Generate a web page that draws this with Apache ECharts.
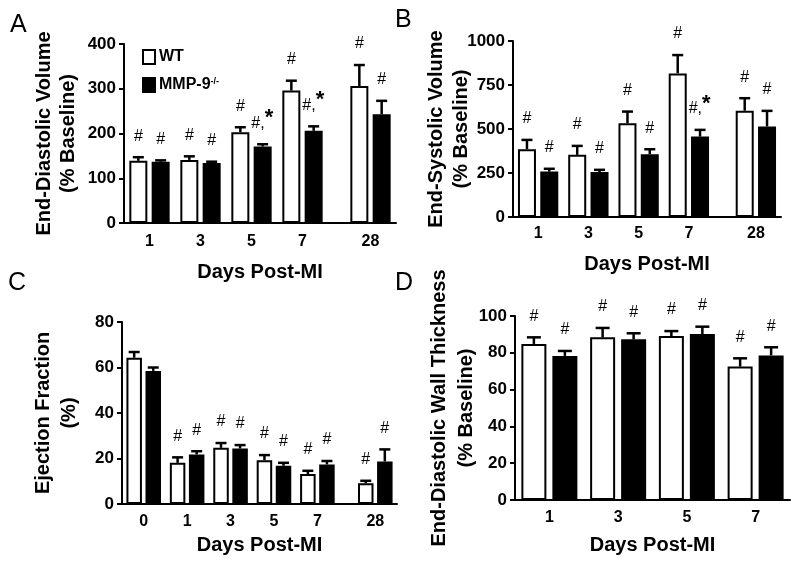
<!DOCTYPE html>
<html><head><meta charset="utf-8">
<script src="https://cdn.jsdelivr.net/npm/echarts@6/dist/echarts.min.js"></script>
<style>html,body{margin:0;padding:0;background:#fff}#c{width:800px;height:565px}</style>
</head><body><div id="c"></div>
<script>
// ---------- Data ----------
const seriesNames = ['WT', 'MMP-9-/-'];

// Panel A: End-Diastolic Volume (% Baseline)
const daysA = ['1', '3', '5', '7', '28'];
const edvWT = [139, 141, 203, 296, 306];
const edvWTsem = [8, 8, 11, 22, 47];
const edvKO = [137, 134, 171, 206, 243];
const edvKOsem = [3, 3, 5, 10, 30];
const edvWTann = ['#', '#', '#', '#', '#'];
const edvKOann = ['#', '#', '#,*', '#,*', '#'];
const edvTicks = [0, 100, 200, 300, 400];

// Panel B: End-Systolic Volume (% Baseline)
const daysB = ['1', '3', '5', '7', '28'];
const esvWT = [385, 353, 533, 816, 604];
const esvWTsem = [53, 51, 66, 104, 71];
const esvKO = [258, 255, 357, 457, 514];
const esvKOsem = [16, 13, 28, 38, 89];
const esvWTann = ['#', '#', '#', '#', '#'];
const esvKOann = ['#', '#', '#', '#,*', '#'];
const esvTicks = [0, 250, 500, 750, 1000];

// Panel C: Ejection Fraction (%)
const daysC = ['0', '1', '3', '5', '7', '28'];
const efWT = [64.3, 18.1, 24.7, 19.2, 13.2, 9.1];
const efWTsem = [2.5, 2.4, 2.1, 2.3, 1.4, 1.1];
const efKO = [58.5, 21.8, 24.4, 16.8, 17.4, 18.7];
const efKOsem = [1.5, 1.4, 1.5, 1.3, 1.5, 5.3];
const efWTann = ['', '#', '#', '#', '#', '#'];
const efKOann = ['', '#', '#', '#', '#', '#'];
const efTicks = [0, 20, 40, 60, 80];

// Panel D: End-Diastolic Wall Thickness (% Baseline)
const daysD = ['1', '3', '5', '7'];
const wtWT = [84.8, 88.4, 89.1, 72.5];
const wtWTsem = [3.6, 5.1, 2.7, 4.5];
const wtKO = [78.3, 87.3, 90.2, 78.6];
const wtKOsem = [2.7, 3.3, 4.0, 4.4];
const wtWTann = ['#', '#', '#', '#'];
const wtKOann = ['#', '#', '#', '#'];
const wtTicks = [0, 20, 40, 60, 80, 100];

// ---------- Layout (not data) ----------
const FONT = '"Liberation Sans", Arial, Helvetica, sans-serif';
const panels = [
  { letter: 'A', lx: 10, ly: 13, grid: { left: 124, top: 44, width: 272, height: 179 },
    days: daysA, slots: [1, 4, 7, 10, 14], nSlots: 16,
    wt: edvWT, wtSem: edvWTsem, ko: edvKO, koSem: edvKOsem, wtAnn: edvWTann, koAnn: edvKOann, ticks: edvTicks,
    yName: 'End-Diastolic Volume\n(% Baseline)', lh: 24, yGap: 44, xLabelMargin: 11, xGap: 39,
    barW: 18, gapPct: 0.24, cap: 11 },
  { letter: 'B', lx: 395, ly: 8, grid: { left: 513, top: 41, width: 268, height: 176 },
    days: daysB, slots: [1, 4, 7, 10, 14], nSlots: 16,
    wt: esvWT, wtSem: esvWTsem, ko: esvKO, koSem: esvKOsem, wtAnn: esvWTann, koAnn: esvKOann, ticks: esvTicks,
    yName: 'End-Systolic Volume\n(% Baseline)', lh: 25, yGap: 39.5, xLabelMargin: 9, xGap: 37,
    barW: 18, gapPct: 0.24, cap: 11 },
  { letter: 'C', lx: 8, ly: 271, grid: { left: 122, top: 322, width: 275, height: 182 },
    days: daysC, slots: [1, 4, 7, 10, 13, 17], nSlots: 19,
    wt: efWT, wtSem: efWTsem, ko: efKO, koSem: efKOsem, wtAnn: efWTann, koAnn: efKOann, ticks: efTicks,
    yName: 'Ejection Fraction\n(%)', lh: 26, yGap: 40, xLabelMargin: 10, xGap: 31,
    barW: 15.5, gapPct: 0.23, cap: 11 },
  { letter: 'D', lx: 395, ly: 271, grid: { left: 515, top: 316, width: 275, height: 184 },
    days: daysD, slots: [0, 1, 2, 3], nSlots: 4,
    wt: wtWT, wtSem: wtWTsem, ko: wtKO, koSem: wtKOsem, wtAnn: wtWTann, koAnn: wtKOann, ticks: wtTicks,
    yName: 'End-Diastolic Wall Thickness\n(% Baseline)', lh: 27, yGap: 35.5, xLabelMargin: 10, xGap: 35,
    barW: 25, gapPct: 0.24, cap: 14 }
];

function spread(vals, slots, n, fill) {
  const a = new Array(n).fill(fill);
  slots.forEach((s, i) => { a[s] = vals[i]; });
  return a;
}

function errRender(p, side, anns) {
  const dist = p.barW * (1 + p.gapPct);
  return function (params, api) {
    const ci = api.value(0), m = api.value(1), s = api.value(2);
    const b = api.coord([ci, m]);
    const t = api.coord([ci, m + s]);
    const x = b[0] + side * dist / 2;
    const children = [
      { type: 'line', shape: { x1: x, y1: b[1], x2: x, y2: t[1] }, style: { stroke: '#000', lineWidth: 2.5 } },
      { type: 'line', shape: { x1: x - p.cap / 2, y1: t[1], x2: x + p.cap / 2, y2: t[1] }, style: { stroke: '#000', lineWidth: 2.5 } }
    ];
    const ann = anns[params.dataIndex];
    const ty = t[1] - 21;
    if (ann === '#') {
      children.push({ type: 'text', x: x, y: ty, style: { text: '#', fill: '#000', fontSize: 16, fontFamily: FONT, align: 'center', verticalAlign: 'middle' } });
    } else if (ann && ann.indexOf('*') >= 0) {
      children.push({ type: 'text', x: x + 2, y: ty, style: { text: '#,', fill: '#000', fontSize: 16, fontFamily: FONT, align: 'right', verticalAlign: 'middle' } });
      children.push({ type: 'text', x: x + 2, y: ty - 5, style: { text: '*', fill: '#000', fontSize: 22, fontWeight: 'bold', fontFamily: FONT, align: 'left', verticalAlign: 'middle' } });
    }
    return { type: 'group', children: children };
  };
}

const grids = [], xAxes = [], yAxes = [], series = [], titles = [];
panels.forEach((p, gi) => {
  grids.push(Object.assign({ containLabel: false, outerBoundsMode: 'none' }, p.grid));
  const cats = [];
  for (let i = 0; i < p.nSlots; i++) cats.push('_' + i);
  p.slots.forEach((s, i) => { cats[s] = p.days[i]; });
  xAxes.push({
    type: 'category', gridIndex: gi, data: cats, boundaryGap: true,
    axisLine: { show: true, lineStyle: { color: '#000', width: 2 } },
    axisTick: { show: false },
    axisLabel: { interval: 0, margin: p.xLabelMargin, color: '#000', fontSize: 16, fontWeight: 'bold', fontFamily: FONT,
      formatter: v => (v.charAt(0) === '_' ? '' : v) },
    splitLine: { show: false },
    name: 'Days Post-MI', nameLocation: 'middle', nameGap: p.xGap, nameMoveOverlap: false,
    nameTextStyle: { color: '#000', fontSize: 20, fontWeight: 'bold', fontFamily: FONT }
  });
  const tk = p.ticks;
  yAxes.push({
    type: 'value', gridIndex: gi, min: tk[0], max: tk[tk.length - 1], interval: tk[1] - tk[0],
    axisLine: { show: true, lineStyle: { color: '#000', width: 2 } },
    axisTick: { show: true, length: 5, lineStyle: { color: '#000', width: 2 } },
    axisLabel: { margin: 8, color: '#000', fontSize: 17, fontWeight: 'bold', fontFamily: FONT, formatter: v => String(v) },
    splitLine: { show: false },
    name: p.yName, nameLocation: 'middle', nameRotate: 90, nameGap: p.yGap, nameMoveOverlap: false,
    nameTextStyle: { color: '#000', fontSize: 20, fontWeight: 'bold', fontFamily: FONT, lineHeight: p.lh, align: 'center' }
  });
  const gap = Math.round(p.gapPct * 100) + '%';
  series.push({
    name: seriesNames[0], type: 'bar', xAxisIndex: gi, yAxisIndex: gi,
    data: spread(p.wt, p.slots, p.nSlots, '-'), barWidth: p.barW, barGap: gap,
    itemStyle: { color: '#fff', borderColor: '#000', borderWidth: 2 }, silent: true, animation: false
  });
  series.push({
    name: seriesNames[1], type: 'bar', xAxisIndex: gi, yAxisIndex: gi,
    data: spread(p.ko, p.slots, p.nSlots, '-'), barWidth: p.barW, barGap: gap,
    itemStyle: { color: '#000', borderColor: '#000', borderWidth: 2 }, silent: true, animation: false
  });
  series.push({
    type: 'custom', xAxisIndex: gi, yAxisIndex: gi, z: 5, silent: true, animation: false,
    data: p.slots.map((s, i) => [s, p.wt[i], p.wtSem[i]]),
    encode: { x: 0, y: 1 }, renderItem: errRender(p, -1, p.wtAnn)
  });
  series.push({
    type: 'custom', xAxisIndex: gi, yAxisIndex: gi, z: 5, silent: true, animation: false,
    data: p.slots.map((s, i) => [s, p.ko[i], p.koSem[i]]),
    encode: { x: 0, y: 1 }, renderItem: errRender(p, 1, p.koAnn)
  });
  titles.push({ text: p.letter, left: p.lx, top: p.ly, padding: 0,
    textStyle: { color: '#000', fontSize: 25, fontWeight: 'normal', fontFamily: FONT } });
});

const chart = echarts.init(document.getElementById('c'), null, { renderer: 'canvas' });
chart.setOption({
  backgroundColor: '#fff',
  animation: false,
  textStyle: { fontFamily: FONT },
  title: titles,
  legend: {
    orient: 'vertical', left: 142, top: 49, padding: 0, itemGap: 12,
    itemWidth: 12, itemHeight: 14, icon: 'rect', selectedMode: false,
    data: [
      { name: seriesNames[0], itemStyle: { color: '#fff', borderColor: '#000', borderWidth: 2 } },
      { name: seriesNames[1], itemStyle: { color: '#000', borderColor: '#000', borderWidth: 2 } }
    ],
    formatter: n => (n === 'WT' ? '{b|WT}' : '{b|MMP-9}{s|-/-}'),
    textStyle: {
      color: '#000', fontFamily: FONT, padding: [0, 0, 0, -1],
      rich: {
        b: { fontSize: 16, fontWeight: 'bold', color: '#000', fontFamily: FONT },
        s: { fontSize: 9, fontWeight: 'bold', color: '#000', fontFamily: FONT, verticalAlign: 'top' }
      }
    }
  },
  grid: grids,
  xAxis: xAxes,
  yAxis: yAxes,
  series: series
});
</script>
</body></html>
